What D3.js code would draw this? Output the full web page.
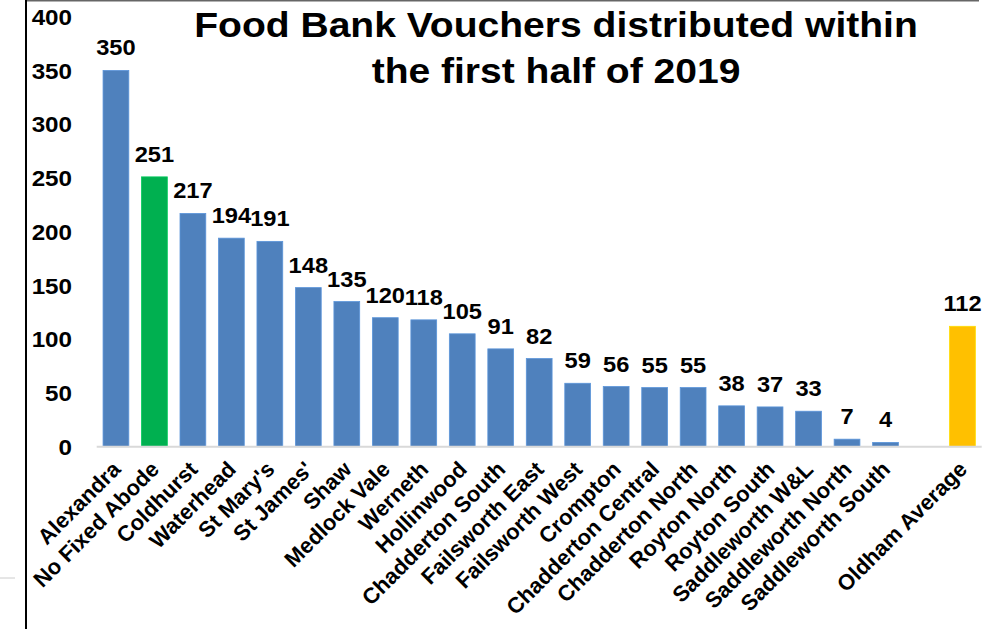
<!DOCTYPE html>
<html>
<head>
<meta charset="utf-8">
<script src="https://cdn.jsdelivr.net/npm/d3@7"></script>
<style>
  html, body { margin: 0; padding: 0; background: #fff; }
  svg { display: block; }
  text { font-family: "Liberation Sans", Arial, sans-serif; font-weight: bold; fill: #000; }
</style>
</head>
<body>
<svg id="chart" width="1008" height="629"></svg>
<script>
const categories = ["Alexandra", "No Fixed Abode", "Coldhurst", "Waterhead", "St Mary's", "St James'",
  "Shaw", "Medlock Vale", "Werneth", "Hollinwood", "Chadderton South", "Failsworth East",
  "Failsworth West", "Crompton", "Chadderton Central", "Chadderton North", "Royton North",
  "Royton South", "Saddleworth W&L", "Saddleworth North", "Saddleworth South", "", "Oldham Average"];
const values = [350, 251, 217, 194, 191, 148, 135, 120, 118, 105, 91, 82, 59, 56, 55, 55, 38, 37, 33, 7, 4, null, 112];
const barColors = ["#4F81BD", "#00B050", "#4F81BD", "#4F81BD", "#4F81BD", "#4F81BD", "#4F81BD", "#4F81BD",
  "#4F81BD", "#4F81BD", "#4F81BD", "#4F81BD", "#4F81BD", "#4F81BD", "#4F81BD", "#4F81BD", "#4F81BD",
  "#4F81BD", "#4F81BD", "#4F81BD", "#4F81BD", "#4F81BD", "#FFC000"];
const yTicks = [0, 50, 100, 150, 200, 250, 300, 350, 400];
const titleLines = ["Food Bank Vouchers distributed within", "the first half of 2019"];

const svg = d3.select("#chart");
const SX = 1.1; // horizontal text stretch seen in the reference

// frame decorations
svg.append("line").attr("x1", 26).attr("x2", 979).attr("y1", 0.75).attr("y2", 0.75)
  .attr("stroke", "#666").attr("stroke-width", 1.5);
svg.append("line").attr("x1", 26).attr("x2", 26).attr("y1", 0).attr("y2", 629)
  .attr("stroke", "#000").attr("stroke-width", 2);
svg.append("line").attr("x1", 0).attr("x2", 15).attr("y1", 578).attr("y2", 578)
  .attr("stroke", "#ccc").attr("stroke-width", 1);

const x = d3.scaleBand().domain(d3.range(categories.length))
  .range([96.7, 981.7]).paddingInner(0.33).paddingOuter(0.165);
const y = d3.scaleLinear().domain([0, 400]).range([446.7, 16.7]);

// y tick labels
const yAxis = d3.axisLeft(y).tickValues(yTicks).tickSize(0).tickPadding(0);
const yg = svg.append("g").attr("transform", "translate(72,0)").call(yAxis);
yg.select(".domain").remove();
yg.selectAll("text")
  .attr("font-size", 22).attr("font-family", "Liberation Sans, Arial, sans-serif")
  .attr("font-weight", "bold").attr("fill", "#000").attr("dy", "0.35em")
  .attr("transform", function(d) { return `translate(0,${y(d)}) scale(${SX},1) translate(0,${-y(d)})`; });

// bars
svg.append("g").selectAll("rect")
  .data(values.map((v, i) => ({ v, i })).filter(d => d.v !== null))
  .join("rect")
  .attr("x", d => x(d.i))
  .attr("width", x.bandwidth())
  .attr("y", d => y(d.v))
  .attr("height", d => y(0) - y(d.v))
  .attr("fill", d => barColors[d.i])
  .attr("stroke", d => d3.color(barColors[d.i]).brighter(0.4))
  .attr("stroke-width", 0.8);

// baseline
svg.append("line").attr("x1", x.range()[0]).attr("x2", x.range()[1])
  .attr("y1", y(0)).attr("y2", y(0)).attr("stroke", "#d9d9d9").attr("stroke-width", 2);

// value labels
svg.append("g").selectAll("text")
  .data(values.map((v, i) => ({ v, i })).filter(d => d.v !== null))
  .join("text")
  .attr("transform", d => `translate(${x(d.i) + x.bandwidth() / 2},${y(d.v) - 15}) scale(${SX},1)`)
  .attr("text-anchor", "middle")
  .attr("font-size", 21.5)
  .text(d => d.v);

// category labels
svg.append("g").selectAll("text")
  .data(categories.map((c, i) => ({ c, i })).filter(d => d.c !== ""))
  .join("text")
  .attr("transform", d => `translate(${x(d.i) + x.bandwidth() / 2 + 6},${y(0) + 24}) rotate(-45)`)
  .attr("text-anchor", "end")
  .attr("font-size", 22)
  .text(d => d.c);

// title
svg.append("g").selectAll("text")
  .data(titleLines)
  .join("text")
  .attr("transform", (d, i) => `translate(556,${37 + i * 46}) scale(${SX},1)`)
  .attr("text-anchor", "middle")
  .attr("font-size", 35.5)
  .text(d => d);
</script>
</body>
</html>
